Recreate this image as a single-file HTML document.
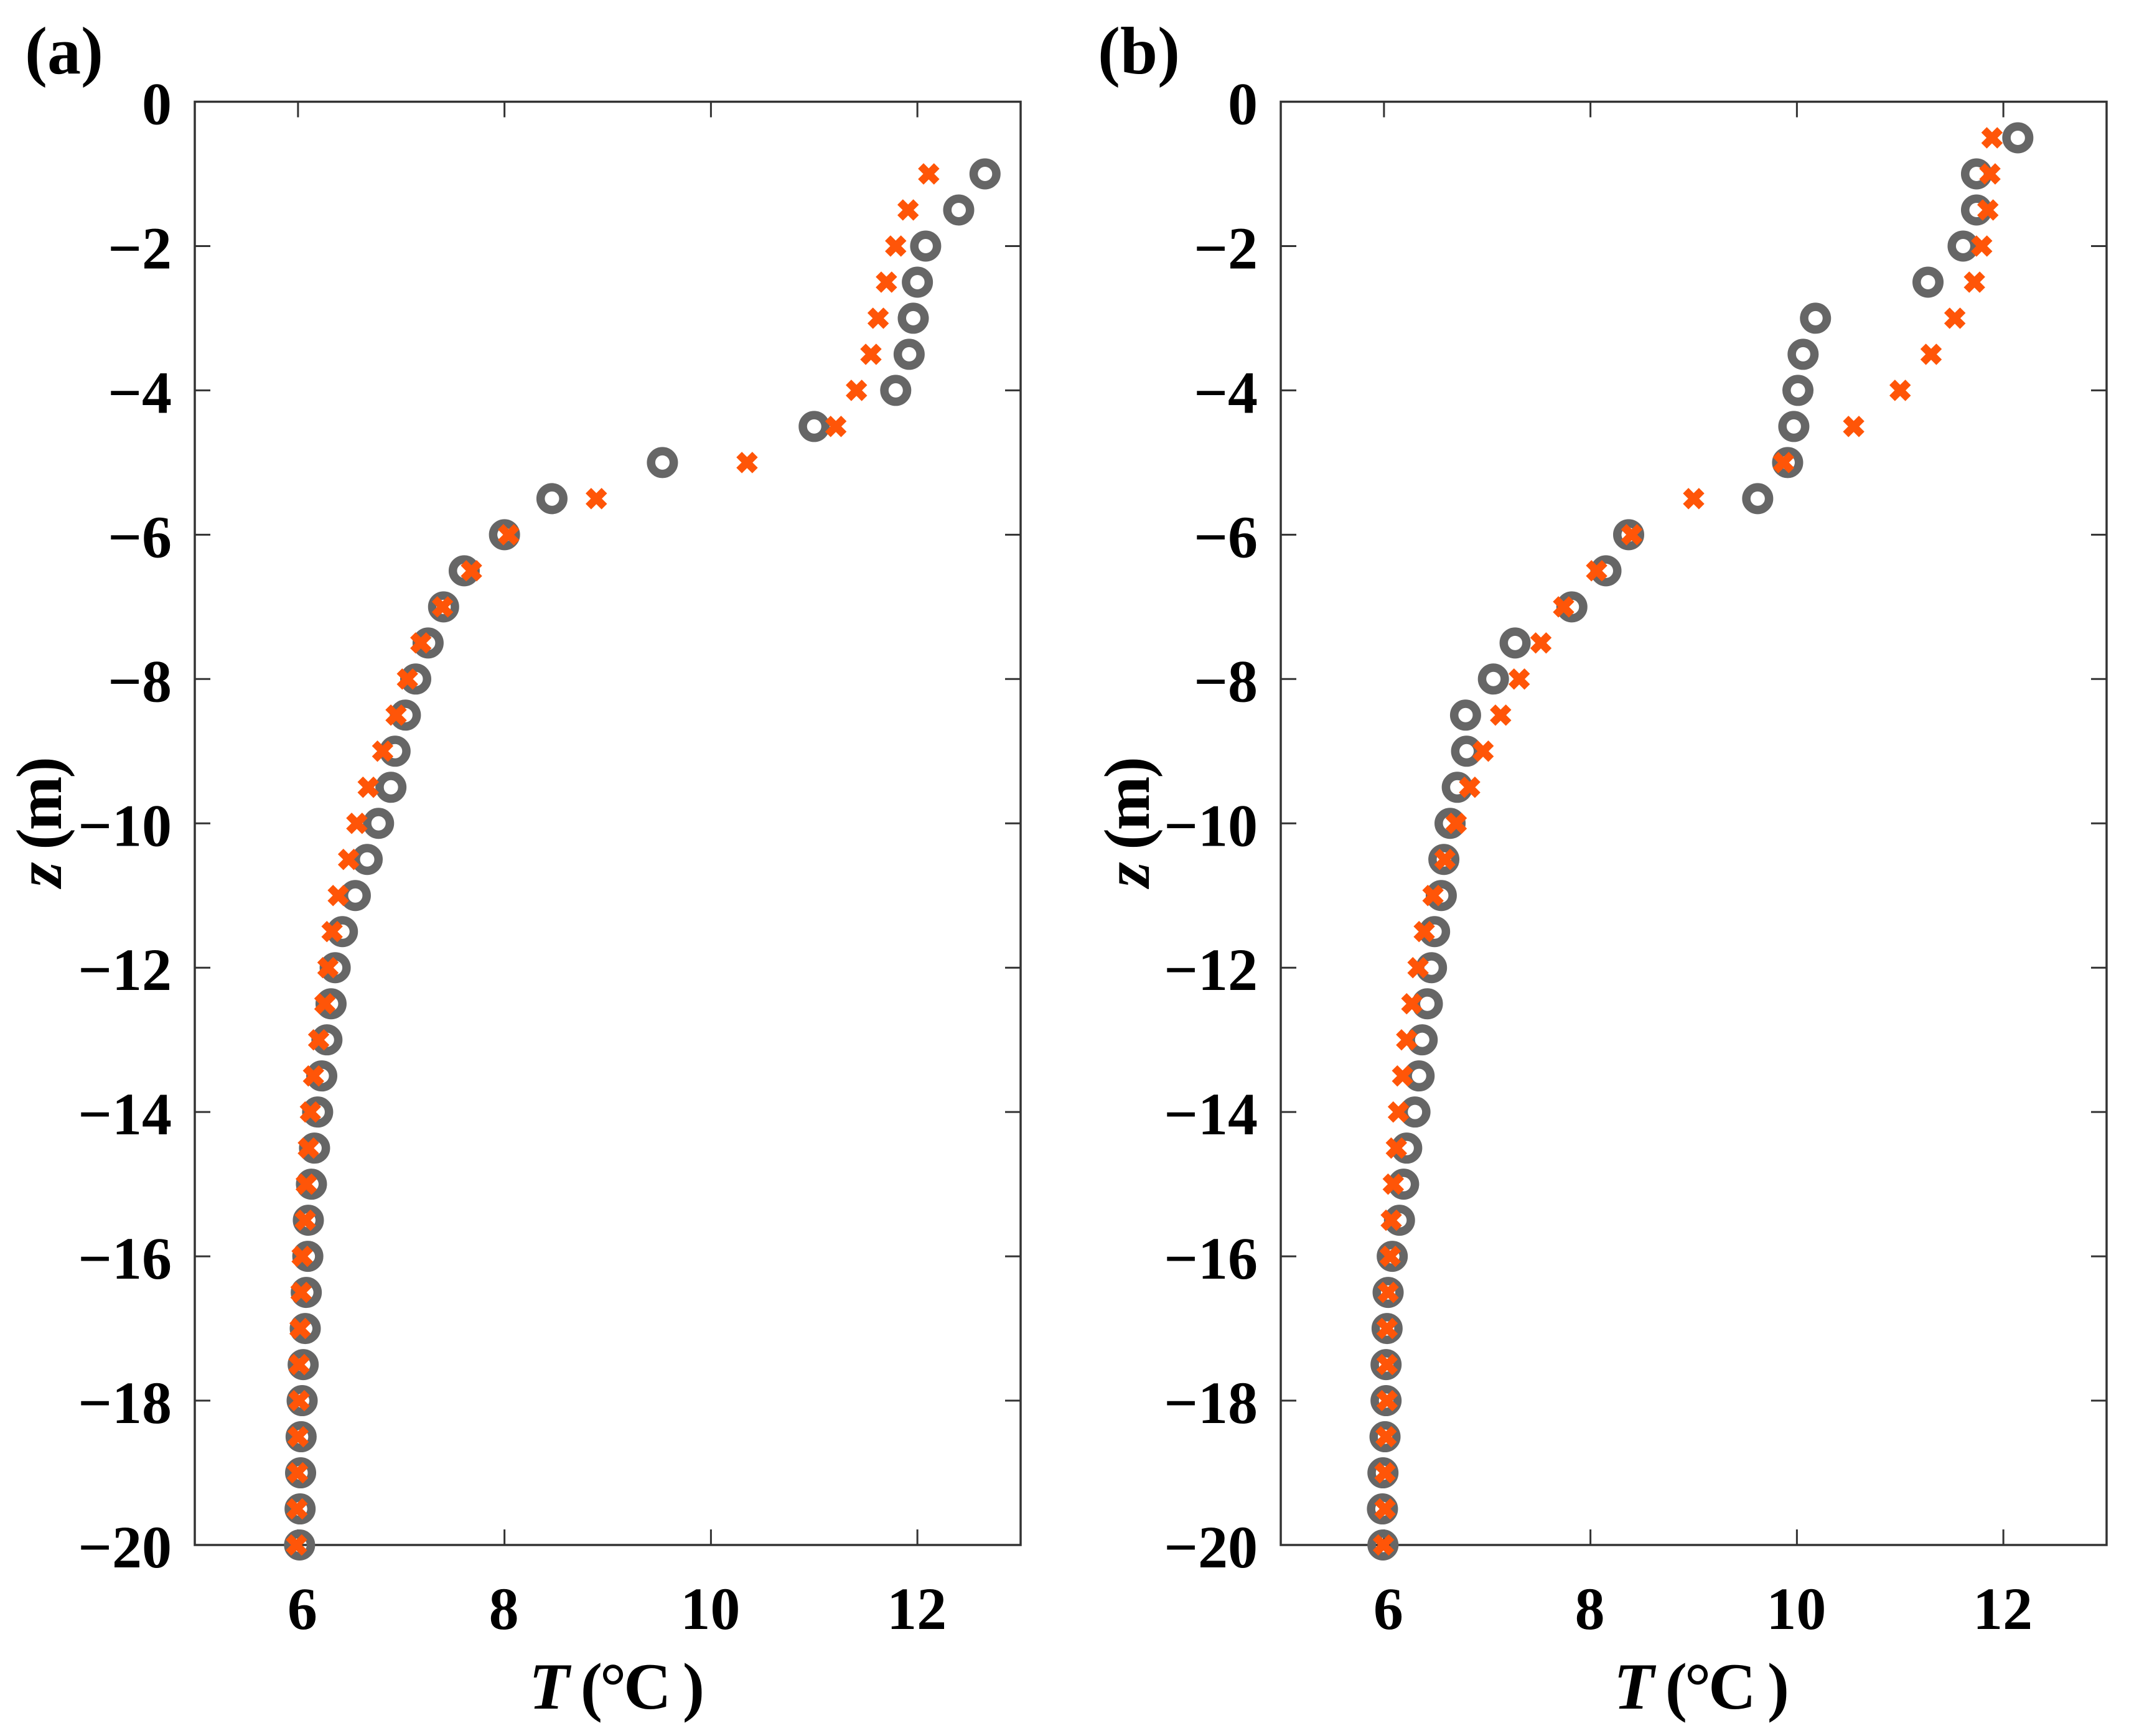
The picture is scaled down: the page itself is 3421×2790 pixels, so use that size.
<!DOCTYPE html>
<html lang="en">
<head>
<meta charset="utf-8">
<title>Temperature profiles</title>
<style>
html,body{margin:0;padding:0;background:#fff;}
svg{display:block;}
text{font-family:"Liberation Serif",serif;font-weight:bold;fill:#000;}
</style>
</head>
<body>
<svg id="figure" xmlns="http://www.w3.org/2000/svg" width="3421" height="2790" viewBox="0 0 3421 2790">
  <rect width="3421" height="2790" fill="#fff"/>
  <g id="panel-a"></g>
  <g id="panel-b"></g>
  <text x="40" y="118" font-size="108">(a)</text>
  <text x="1764" y="118" font-size="108">(b)</text>
  <text x="850" y="2746" font-size="106" textLength="282" lengthAdjust="spacing"><tspan font-style="italic">T</tspan> (°C )</text>
  <text x="2593" y="2746" font-size="106" textLength="282" lengthAdjust="spacing"><tspan font-style="italic">T</tspan> (°C )</text>
  <text transform="translate(98 1426) rotate(-90)" font-size="104" textLength="210" lengthAdjust="spacing"><tspan font-style="italic">z</tspan> (m)</text>
  <text transform="translate(1846 1426) rotate(-90)" font-size="104" textLength="210" lengthAdjust="spacing"><tspan font-style="italic">z</tspan> (m)</text>
</svg>
<script>
const xTickValues = [6, 8, 10, 12];
const yTickValues = [0, -2, -4, -6, -8, -10, -12, -14, -16, -18, -20];
const xDomain = [5, 13];
const yDomain = [0, -20];

const depthsA = [-1,-1.5,-2,-2.5,-3,-3.5,-4,-4.5,-5,-5.5,-6,-6.5,-7,-7.5,-8,-8.5,-9,-9.5,-10,-10.5,-11,-11.5,-12,-12.5,-13,-13.5,-14,-14.5,-15,-15.5,-16,-16.5,-17,-17.5,-18,-18.5,-19,-19.5,-20];
const circlesA = [12.655,12.40,12.08,12.0,11.96,11.92,11.79,11.0,9.53,8.46,8.0,7.61,7.41,7.26,7.14,7.04,6.94,6.90,6.78,6.67,6.555,6.43,6.36,6.32,6.28,6.23,6.19,6.16,6.13,6.10,6.095,6.08,6.07,6.05,6.04,6.03,6.025,6.02,6.015];
const crossesA = [12.11,11.91,11.79,11.70,11.62,11.55,11.41,11.21,10.35,8.89,8.04,7.68,7.40,7.19,7.06,6.95,6.82,6.68,6.57,6.49,6.39,6.33,6.29,6.26,6.20,6.15,6.12,6.10,6.08,6.07,6.04,6.03,6.02,6.01,6.01,6.00,5.995,5.99,5.985];

const depthsB = [-0.5,-1,-1.5,-2,-2.5,-3,-3.5,-4,-4.5,-5,-5.5,-6,-6.5,-7,-7.5,-8,-8.5,-9,-9.5,-10,-10.5,-11,-11.5,-12,-12.5,-13,-13.5,-14,-14.5,-15,-15.5,-16,-16.5,-17,-17.5,-18,-18.5,-19,-19.5,-20];
const circlesB = [12.14,11.74,11.74,11.61,11.27,10.18,10.06,10.01,9.97,9.91,9.62,8.37,8.15,7.82,7.27,7.06,6.79,6.80,6.71,6.64,6.58,6.555,6.49,6.46,6.42,6.37,6.34,6.30,6.22,6.19,6.15,6.08,6.04,6.03,6.02,6.02,6.01,5.99,5.985,5.99];
const crossesB = [11.89,11.87,11.85,11.79,11.72,11.53,11.30,11.0,10.55,9.87,9.0,8.40,8.06,7.74,7.52,7.31,7.13,6.96,6.83,6.70,6.59,6.475,6.39,6.33,6.27,6.22,6.18,6.14,6.12,6.09,6.07,6.06,6.04,6.03,6.03,6.03,6.02,6.01,6.01,5.995];

const SVG_NS = 'http://www.w3.org/2000/svg';
const PLOT_TOP = 163.5, PLOT_BOTTOM = 2483, PLOT_WIDTH = 1327, TICK_LEN = 25;

function make(tag, attrs, parent) {
  const el = document.createElementNS(SVG_NS, tag);
  for (const k in attrs) el.setAttribute(k, attrs[k]);
  parent.appendChild(el);
  return el;
}

function drawPanel(id, left, depths, circles, crosses) {
  const root = document.getElementById(id);
  const right = left + PLOT_WIDTH;
  const xs = v => left + (v - xDomain[0]) / (xDomain[1] - xDomain[0]) * PLOT_WIDTH;
  const ys = v => PLOT_TOP + (v - yDomain[0]) / (yDomain[1] - yDomain[0]) * (PLOT_BOTTOM - PLOT_TOP);
  const tickStyle = { stroke: '#333', 'stroke-width': 3 };

  xTickValues.forEach(v => {
    const x = xs(v);
    const top = make('line', { x1: x, x2: x, y1: PLOT_TOP, y2: PLOT_TOP + TICK_LEN, ...tickStyle }, root);
    
    
    const bottom = make('line', { x1: x, x2: x, y1: PLOT_BOTTOM, y2: PLOT_BOTTOM - TICK_LEN, ...tickStyle }, root);
    
    
    const label = make('text', { x: x + (v === 6 ? 7 : -1), y: 2618, 'font-size': 96, 'text-anchor': 'middle' }, root);
    label.textContent = String(v);
    
    
  });

  yTickValues.forEach(v => {
    const y = ys(v);
    const l = make('line', { x1: left, x2: left + TICK_LEN, y1: y, y2: y, ...tickStyle }, root);
    
    
    const r = make('line', { x1: right, x2: right - TICK_LEN, y1: y, y2: y, ...tickStyle }, root);
    
    
    const label = make('text', { x: left - 37, y: y + 36, 'font-size': 96, 'text-anchor': 'end' }, root);
    label.textContent = v < 0 ? '\u2212' + Math.abs(v) : String(v);
    
    
  });

  const frame = make('rect', { x: left, y: PLOT_TOP, width: PLOT_WIDTH, height: PLOT_BOTTOM - PLOT_TOP, fill: 'none', stroke: '#333', 'stroke-width': 3.5 }, root);
  
  

  circles.forEach((v, i) => {
    const c = make('circle', { cx: xs(v), cy: ys(depths[i]), r: 18.25, fill: 'none', stroke: '#666666', 'stroke-width': 13.5 }, root);
    
    
  });

  const d = 12.8;
  crosses.forEach((v, i) => {
    const x = xs(v), y = ys(depths[i]);
    const m = make('path', { d: `M${x - d} ${y - d}L${x + d} ${y + d}M${x - d} ${y + d}L${x + d} ${y - d}`, fill: 'none', stroke: '#FF5508', 'stroke-width': 12.5 }, root);
    
    
  });
}

drawPanel('panel-a', 313, depthsA, circlesA, crossesA);
drawPanel('panel-b', 2058, depthsB, circlesB, crossesB);
</script>
</body>
</html>
